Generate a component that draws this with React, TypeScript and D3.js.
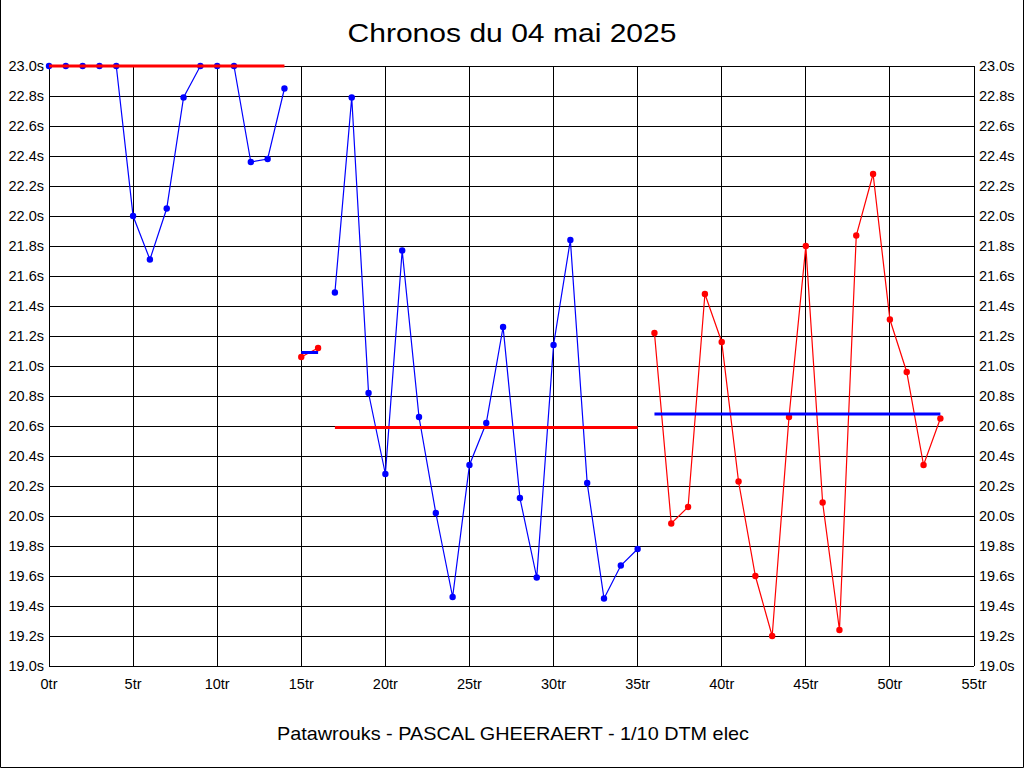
import { useEffect } from 'react';
import * as d3 from 'd3';

// Chronos par série (tours consécutifs), en secondes
const seriesStart = [0, 15, 17, 36];
const seriesTimes = [
  [23.0, 23.0, 23.0, 23.0, 23.0, 22.0, 21.71, 22.05, 22.79, 23.0, 23.0, 23.0, 22.36, 22.38, 22.85],
  [21.06, 21.12],
  [21.49, 22.79, 20.82, 20.28, 21.77, 20.66, 20.02, 19.46, 20.34, 20.62, 21.26, 20.12, 19.59, 21.14, 21.84, 20.22, 19.45, 19.67, 19.78],
  [21.22, 19.95, 20.06, 21.48, 21.16, 20.23, 19.6, 19.2, 20.66, 21.8, 20.09, 19.24, 21.87, 22.28, 21.31, 20.96, 20.34, 20.65],
];
const seriesAverage = [23.0, 21.09, 20.59, 20.68];

const xTicks = [0, 5, 10, 15, 20, 25, 30, 35, 40, 45, 50, 55];
const yTicks = [19.0, 19.2, 19.4, 19.6, 19.8, 20.0, 20.2, 20.4, 20.6, 20.8, 21.0, 21.2, 21.4, 21.6, 21.8, 22.0, 22.2, 22.4, 22.6, 22.8, 23.0];

const title = 'Chronos du 04 mai 2025';
const footer = 'Patawrouks - PASCAL GHEERAERT - 1/10 DTM elec';

const W = 1024;
const H = 768;
const BLUE = '#0000ff';
const RED = '#ff0000';

export default function App() {
  useEffect(() => {
    document.body.style.margin = '0';
  }, []);

  const x = d3.scaleLinear().domain([0, 55]).range([49, 974]);
  const y = d3.scaleLinear().domain([19, 23]).range([666, 66]);

  const line = d3.line<[number, number]>()
    .x(d => x(d[0]))
    .y(d => y(d[1]));

  const font = '"Liberation Sans", Arial, sans-serif';

  return (
    <svg width={W} height={H} style={{ display: 'block', background: '#fff' }} fontFamily={font}>
      <rect x={0} y={0} width={W} height={H} fill="#fff" />
      {/* cadre */}
      <path d={`M0.5,0 V${H - 0.5} H${W - 0.5} V0`} fill="none" stroke="#000" />

      <text x={512} y={42} textAnchor="middle" fontSize={26} fill="#000"
        textLength={329} lengthAdjust="spacingAndGlyphs">{title}</text>

      {/* grille */}
      <g stroke="#000" strokeWidth={1} shapeRendering="crispEdges">
        {xTicks.map(t => (
          <line key={'vx' + t} x1={x(t)} x2={x(t)} y1={y(23)} y2={y(19)} />
        ))}
        {yTicks.map(t => (
          <line key={'hy' + t} x1={x(0)} x2={x(55)} y1={y(t)} y2={y(t)} />
        ))}
      </g>

      {/* étiquettes */}
      <g fontSize={14.5} fill="#000">
        {yTicks.map(t => (
          <text key={'l' + t} x={44} y={y(t)} dy="0.36em" textAnchor="end">{t.toFixed(1)}s</text>
        ))}
        {yTicks.map(t => (
          <text key={'r' + t} x={979} y={y(t)} dy="0.36em" textAnchor="start">{t.toFixed(1)}s</text>
        ))}
        {xTicks.map(t => (
          <text key={'x' + t} x={x(t)} y={689} textAnchor="middle">{t}tr</text>
        ))}
      </g>

      {/* séries */}
      {seriesTimes.map((times, i) => {
        const start = seriesStart[i];
        const pts: [number, number][] = times.map((v, j) => [start + j, v]);
        const color = i % 2 === 0 ? BLUE : RED;
        const avgColor = i % 2 === 0 ? RED : BLUE;
        const end = start + times.length - 1;
        return (
          <g key={'s' + i}>
            <path d={line(pts) || ''} fill="none" stroke={color} strokeWidth={1.2} />
            {pts.map(p => (
              <circle key={p[0]} cx={x(p[0])} cy={y(p[1])} r={3.2} fill={color} />
            ))}
            <line x1={x(start)} x2={x(end)} y1={y(seriesAverage[i])} y2={y(seriesAverage[i])}
              stroke={avgColor} strokeWidth={3} />
          </g>
        );
      })}

      <text x={513} y={740} textAnchor="middle" fontSize={19} fill="#000"
        textLength={472} lengthAdjust="spacingAndGlyphs">{footer}</text>
    </svg>
  );
}
